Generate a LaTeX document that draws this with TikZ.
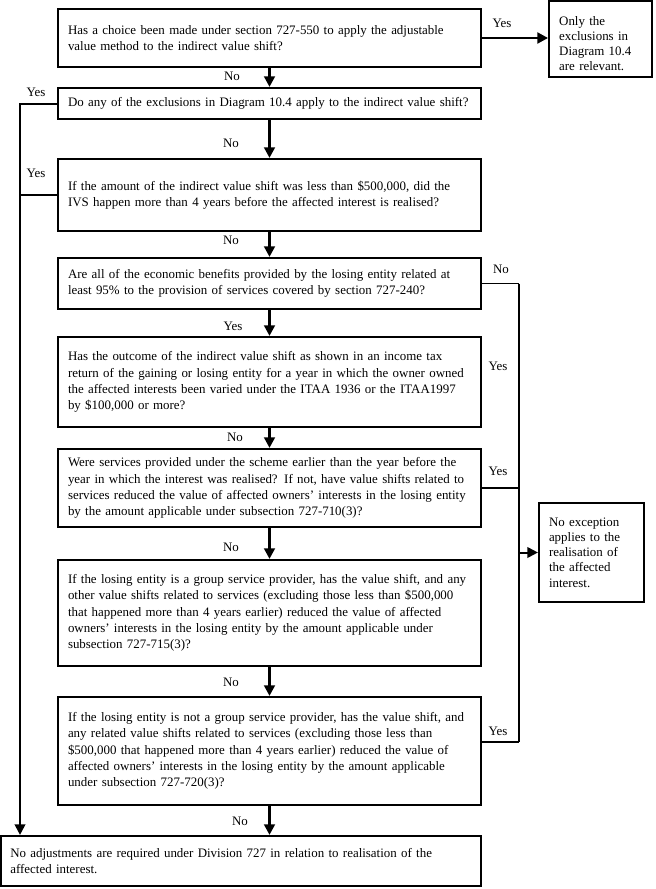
\documentclass[tikz,border=0pt]{standalone}
\usepackage{fontspec}
\setmainfont{Liberation Serif}
\usetikzlibrary{arrows.meta}
\newcommand\oneline[1]{\mbox{#1}}
\begin{document}
\begin{tikzpicture}[x=0.75pt,y=-0.75pt,
  every node/.style={font=\fontsize{9.7pt}{12.2pt}\selectfont},
  qbox/.style={draw,line width=1.6pt,text width=302.25pt,inner xsep=7.5pt,align=left},
  sidebox/.style={draw,line width=1.6pt,align=left,inner xsep=7.5pt,font=\fontsize{9.7pt}{11.4pt}\selectfont},
  lbl/.style={inner sep=0pt},
  flow/.style={line width=2pt,-{Triangle[width=8pt,length=8pt]}},
  link/.style={line width=1.5pt},
  thinlink/.style={line width=0.8pt}]
\useasboundingbox (0,0) rectangle (656,889);
% question boxes
\node[qbox,minimum height=43.5pt] (b1) at (269.5,38) {\oneline{Has a choice been made under section 727-550 to apply the adjustable}\\\oneline{value method to the indirect value shift?}};
\node[qbox,minimum height=23.25pt] (b2) at (269.5,103.5) {\oneline{Do any of the exclusions in Diagram 10.4 apply to the indirect value shift?}};
\node[qbox,minimum height=54pt] (b3) at (269.5,195) {\oneline{If the amount of the indirect value shift was less than \$500,000, did the}\\\oneline{IVS happen more than 4 years before the affected interest is realised?}};
\node[qbox,minimum height=38.25pt] (b4) at (269.5,283.5) {\oneline{Are all of the economic benefits provided by the losing entity related at}\\\oneline{least 95\% to the provision of services covered by section 727-240?}};
\node[qbox,minimum height=67.5pt] (b5) at (269.5,382) {\oneline{Has the outcome of the indirect value shift as shown in an income tax}\\\oneline{return of the gaining or losing entity for a year in which the owner owned}\\\oneline{the affected interests been varied under the ITAA 1936 or the ITAA1997}\\\oneline{by \$100,000 or more?}};
\node[qbox,minimum height=58.5pt] (b6) at (269.5,488) {\oneline{Were services provided under the scheme earlier than the year before the}\\\oneline{year in which the interest was realised? If not, have value shifts related to}\\\oneline{services reduced the value of affected owners’ interests in the losing entity}\\\oneline{by the amount applicable under subsection 727-710(3)?}};
\node[qbox,minimum height=79.5pt] (b7) at (269.5,613) {\oneline{If the losing entity is a group service provider, has the value shift, and any}\\\oneline{other value shifts related to services (excluding those less than \$500,000}\\\oneline{that happened more than 4 years earlier) reduced the value of affected}\\\oneline{owners’ interests in the losing entity by the amount applicable under}\\\oneline{subsection 727-715(3)?}};
\node[qbox,minimum height=81pt] (b8) at (269.5,751) {\oneline{If the losing entity is not a group service provider, has the value shift, and}\\\oneline{any related value shifts related to services (excluding those less than}\\\oneline{\$500,000 that happened more than 4 years earlier) reduced the value of}\\\oneline{affected owners’ interests in the losing entity by the amount applicable}\\\oneline{under subsection 727-720(3)?}};
\node[draw,line width=1.6pt,text width=346pt,inner xsep=7pt,align=left,minimum height=37.5pt] (bot) at (241,861) {\oneline{No adjustments are required under Division 727 in relation to realisation of the}\\\oneline{affected interest.}};
% side boxes
\node[sidebox,text width=62pt,minimum height=57pt] (only) at (600.5,39) {\rule{0pt}{13.5pt}Only the\\exclusions in\\Diagram 10.4\\are relevant.};
\node[sidebox,text width=63.75pt,minimum height=74.25pt] (nox) at (591.5,552.5) {No exception\\applies to the\\realisation of\\the affected\\interest.};
% helper coordinates
\coordinate (lft) at (20,103.5);
\coordinate (rt) at (519,283.5);
\coordinate (rt2) at (519,742);
% main flow
\draw[flow] (b1.east) -- (b1.east -| only.west);
\draw[flow] (b1.south) -- (b2.north);
\draw[flow] (b2.south) -- (b3.north);
\draw[flow] (b3.south) -- (b4.north);
\draw[flow] (b4.south) -- (b5.north);
\draw[flow] (b5.south) -- (b6.north);
\draw[flow] (b6.south) -- (b7.north);
\draw[flow] (b7.south) -- (b8.north);
\draw[flow] (b8.south) -- (b8.south |- bot.north);
% left Yes path
\draw[link,-{Triangle[width=8pt,length=8pt]}] (b2.west) -- (lft) -- (lft |- bot.north);
\draw[link] (b3.west) -- (b3.west -| lft);
% right path
\draw[thinlink] (b4.east) -- (rt);
\draw[link] (rt) -- (rt2);
\draw[link] (b6.east) -- (b6.east -| rt);
\draw[link] (rt2 -| b8.east) -- (rt2);
\draw[link,-{Triangle[width=8pt,length=8pt]}] (rt |- nox.west) -- (nox.west);
% labels
\node[lbl] (l1) at (502,23) {Yes};
\node[lbl] (l2) at (232,76) {No};
\node[lbl] (l3) at (36,92) {Yes};
\node[lbl] (l4) at (231,143) {No};
\node[lbl] (l5) at (36,173) {Yes};
\node[lbl] (l6) at (231,240) {No};
\node[lbl] (l7) at (501,269) {No};
\node[lbl] (l8) at (233,326) {Yes};
\node[lbl] (l9) at (498,366) {Yes};
\node[lbl] (l10) at (235,437) {No};
\node[lbl] (l11) at (498,471) {Yes};
\node[lbl] (l12) at (231,547) {No};
\node[lbl] (l13) at (231,682) {No};
\node[lbl] (l14) at (498,731) {Yes};
\node[lbl] (l15) at (240,821) {No};
\end{tikzpicture}
\end{document}
